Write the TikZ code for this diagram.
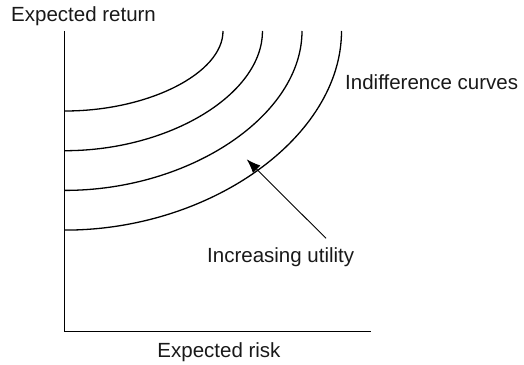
\documentclass[tikz,border=0pt]{standalone}
\usepackage{fontspec}
\setmainfont{Liberation Sans}
\usetikzlibrary{arrows.meta,positioning}

\begin{document}
\begin{tikzpicture}[x=1pt, y=1pt, lbl/.style = {inner sep=0, font=\fontsize{20.5}{24}\selectfont, text=black!90}, curve/.style = {line width=1.3pt}, axis/.style = {line width=0.9pt}]
\useasboundingbox (0,0) rectangle (524,364);
\coordinate (o) at (64.5,33);
\coordinate (ytop) at (64.5,333);
\coordinate (xend) at (371,33);
\draw[axis] (ytop) -- (o) -- (xend);
\node[lbl, anchor=base west] (ret) at (11,342) {Expected return};
\node[lbl, anchor=base] (risk) at (219,7) {Expected risk};
\node[lbl, anchor=base west] (indiff) at (345,274) {Indifference curves};
\node[lbl, anchor=base west] (util) at (207,102) {Increasing utility};
\foreach \i in {0,...,3} {
  \coordinate (s\i) at (65, 253-39.7*\i);
  \coordinate (e\i) at (223+39.5*\i, 333);
  \draw[curve] (s\i) .. controls +(83.2+21*\i,0) and +(0,-42.4-21*\i) .. (e\i);
}
\coordinate (from) at (326,125.7);
\coordinate (tip) at (246.7,204.7);
\draw[axis, -{Latex[length=14pt,width=10.5pt]}] (from) -- (tip);
\end{tikzpicture}
\end{document}
